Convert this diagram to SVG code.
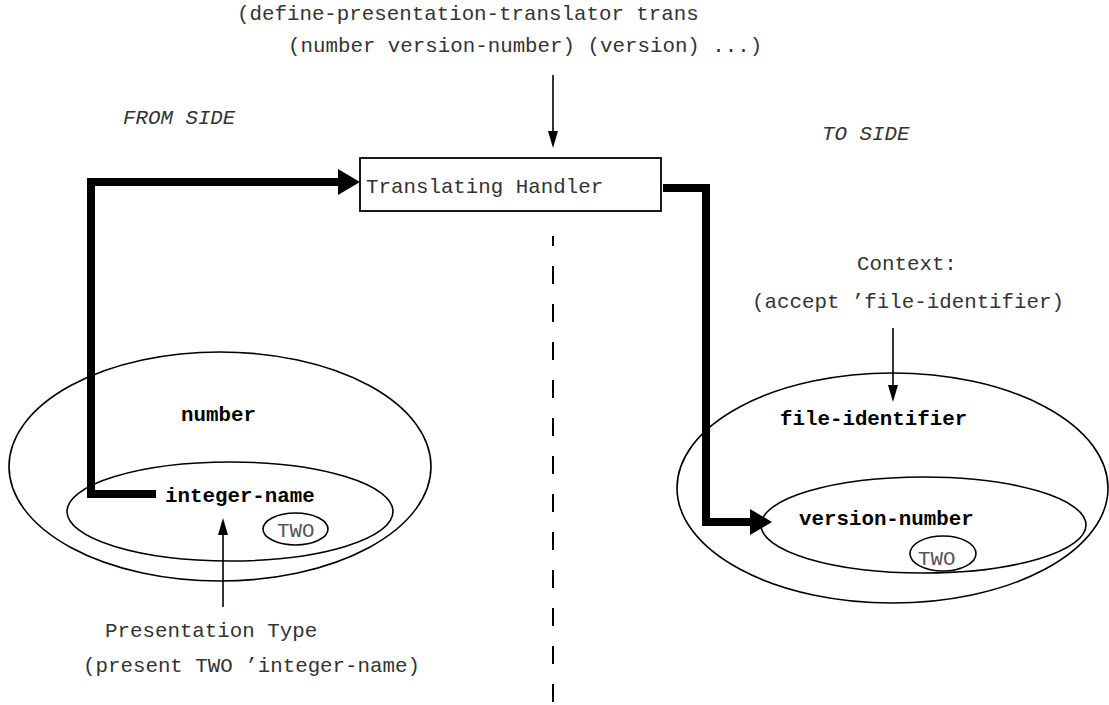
<svg xmlns="http://www.w3.org/2000/svg" width="1109" height="705" viewBox="0 0 1109 705">
<style>
text{font-family:"Liberation Mono","Courier New",monospace;font-size:20.8px;fill:#333}
.b{font-weight:bold;fill:#000}
.i{font-style:italic}
.two{fill:#555}
.ell{fill:none;stroke:#000;stroke-width:1.6}
.thick{fill:none;stroke:#000;stroke-width:8;stroke-linejoin:miter}
.thin{fill:none;stroke:#000;stroke-width:1.6}
</style>
<defs>
<marker id="big" markerUnits="userSpaceOnUse" markerWidth="24" markerHeight="30" viewBox="0 -14 24 28" refX="0" refY="0" orient="auto">
<path d="M0,-13 L22,0 L0,13 z" fill="#000"/>
</marker>
<marker id="small" markerUnits="userSpaceOnUse" markerWidth="18" markerHeight="12" viewBox="0 -6 18 12" refX="0" refY="0" orient="auto">
<path d="M0,-5 L17,0 L0,5 z" fill="#000"/>
</marker>
</defs>
<rect width="1109" height="705" fill="#fff"/>
<g id="header">
<text x="237" y="20">(define-presentation-translator trans</text>
<text x="288" y="52">(number version-number) (version) ...)</text>
</g>
<g id="side-labels">
<text class="i" x="123" y="124">FROM SIDE</text>
<text class="i" x="822" y="140">TO SIDE</text>
</g>
<g id="handler">
<rect x="360" y="158" width="301" height="53" fill="#fff" stroke="#000" stroke-width="1.8"/>
<text x="366" y="193">Translating Handler</text>
</g>
<g id="divider">
<line x1="553" y1="236" x2="553" y2="705" stroke="#000" stroke-width="2" stroke-dasharray="18 20" stroke-dashoffset="8"/>
</g>
<g id="from-type">
<ellipse class="ell" cx="220" cy="466.5" rx="211" ry="114.5"/>
<text class="b" x="181" y="421">number</text>
<ellipse class="ell" cx="230" cy="511.5" rx="163" ry="49.5"/>
<text class="b" x="165" y="502">integer-name</text>
<ellipse class="ell" cx="295.5" cy="529" rx="32.5" ry="16"/>
<text class="two" x="277" y="537">TWO</text>
</g>
<g id="to-type">
<ellipse class="ell" cx="892.5" cy="488" rx="215.5" ry="115"/>
<text class="b" x="780" y="425">file-identifier</text>
<ellipse class="ell" cx="923.5" cy="525" rx="162.5" ry="48"/>
<text class="b" x="799" y="525">version-number</text>
<ellipse class="ell" cx="943" cy="553.5" rx="33" ry="17.5"/>
<text class="two" x="918" y="565">TWO</text>
</g>
<g id="context">
<text x="857" y="270">Context:</text>
<text x="752" y="308">(accept ’file-identifier)</text>
</g>
<g id="presentation">
<text x="105" y="637">Presentation Type</text>
<text x="83" y="672">(present TWO ’integer-name)</text>
</g>
<g id="connectors">
<path class="thick" d="M156,494 H91 V182 H338" marker-end="url(#big)"/>
<path class="thick" d="M663,188 H706 V522 H750" marker-end="url(#big)"/>
<path class="thin" d="M553,75 V131" marker-end="url(#small)"/>
<path class="thin" d="M893,328 V385" marker-end="url(#small)"/>
<path class="thin" d="M223,607 V535" marker-end="url(#small)"/>
</g>
</svg>
